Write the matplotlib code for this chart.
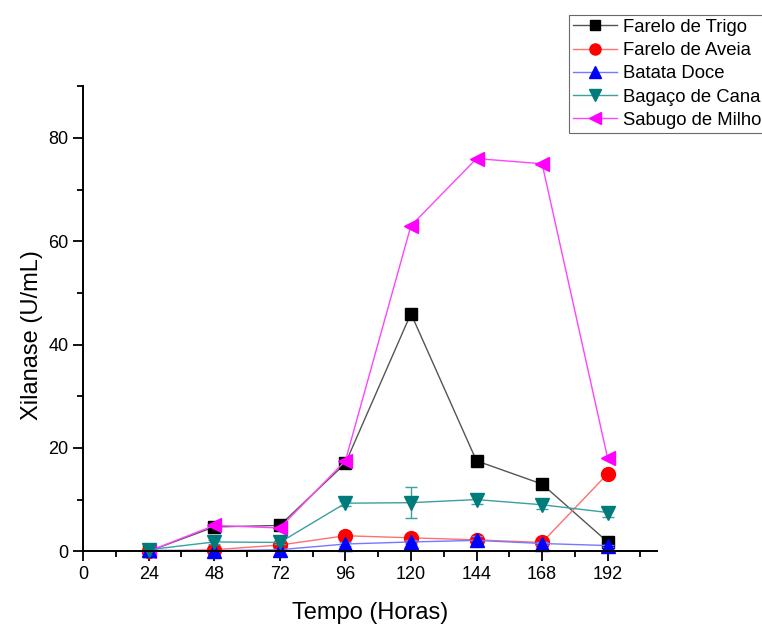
import matplotlib
matplotlib.use('Agg')
import matplotlib.pyplot as plt
from matplotlib.ticker import MultipleLocator
from matplotlib.lines import Line2D

plt.rcParams['font.family'] = ['Liberation Sans', 'DejaVu Sans']

# ---- data ----
tempo = [24, 48, 72, 96, 120, 144, 168, 192]
trigo = [0.0, 4.7, 5.0, 17.0, 46.0, 17.5, 13.0, 1.8]
aveia = [0.0, 0.3, 1.2, 3.0, 2.6, 2.2, 1.7, 15.0]
batata = [0.2, 0.1, 0.3, 1.4, 1.8, 2.1, 1.5, 1.1]
bagaco = [0.3, 1.8, 1.7, 9.3, 9.4, 10.0, 9.0, 7.5]
bagaco_err = [0.0, 0.3, 0.3, 0.5, 3.0, 0.8, 0.8, 0.8]
batata_err = [0.0, 0.0, 0.0, 0.3, 0.3, 0.8, 0.3, 0.2]
sabugo = [0.0, 5.0, 4.5, 17.5, 63.0, 76.0, 75.0, 18.0]

fig = plt.figure(figsize=(7.62, 6.25), dpi=100)
ax = fig.add_axes([0.109, 0.118, 0.753, 0.744])

h1, = ax.plot(tempo, trigo, '-', color='#555555', lw=1, marker='s', ms=9,
              mfc='black', mec='black', label='Farelo de Trigo')
h2, = ax.plot(tempo, aveia, '-', color='#ff7070', lw=1, marker='o', ms=10,
              mfc='red', mec='red', label='Farelo de Aveia')
ax.errorbar(tempo, batata, yerr=batata_err, fmt='-', color='#7777ff', lw=1,
            marker='^', ms=10, mfc='blue', mec='blue', ecolor='#7777ff',
            capsize=4)
ax.errorbar(tempo, bagaco, yerr=bagaco_err, fmt='-', color='#3aa0a0', lw=1,
            marker='v', ms=10, mfc='#007b7b', mec='#007b7b', ecolor='#3aa0a0',
            capsize=4)
h5, = ax.plot(tempo, sabugo, '-', color='#ff44ff', lw=1, marker='<', ms=10,
              mfc='magenta', mec='magenta', label='Sabugo de Milho')

ax.set_xlim(0, 210)
ax.set_ylim(0, 90)
ax.xaxis.set_minor_locator(MultipleLocator(12))
ax.yaxis.set_minor_locator(MultipleLocator(10))
ax.set_xticks(range(0, 193, 24))
ax.set_yticks(range(0, 81, 20))
ax.tick_params(which='major', length=7, width=1.3, labelsize=13)
ax.tick_params(which='minor', length=4, width=1.3)
for s in ['top', 'right']:
    ax.spines[s].set_visible(False)
for s in ['left', 'bottom']:
    ax.spines[s].set_linewidth(1.4)

for line in ax.get_lines():
    line.set_clip_on(False)

ax.set_xlabel('Tempo (Horas)', fontsize=17, labelpad=14)
ax.set_ylabel('Xilanase (U/mL)', fontsize=17)
ax.yaxis.set_label_coords(-0.07, 0.465)

# line-only handles for legend (no error bars)
lh3 = Line2D([], [], color='#7777ff', lw=1, marker='^', ms=10, mfc='blue', mec='blue')
lh4 = Line2D([], [], color='#3aa0a0', lw=1, marker='v', ms=10, mfc='#007b7b', mec='#007b7b')
leg = ax.legend([h1, h2, lh3, lh4, h5],
                ['Farelo de Trigo', 'Farelo de Aveia', 'Batata Doce', 'Bagaço de Cana', 'Sabugo de Milho'],
                loc='upper left', bbox_to_anchor=(569 / 762, 1 - 15 / 625), bbox_transform=fig.transFigure,
                fontsize=13.3, frameon=True, fancybox=False, edgecolor='#444444',
                borderpad=0.2, borderaxespad=0, handlelength=2.4, labelspacing=0.34,
                handletextpad=0.3, markerscale=0.8)
leg.get_frame().set_linewidth(0.8)

fig.savefig('out.png', dpi=100)
